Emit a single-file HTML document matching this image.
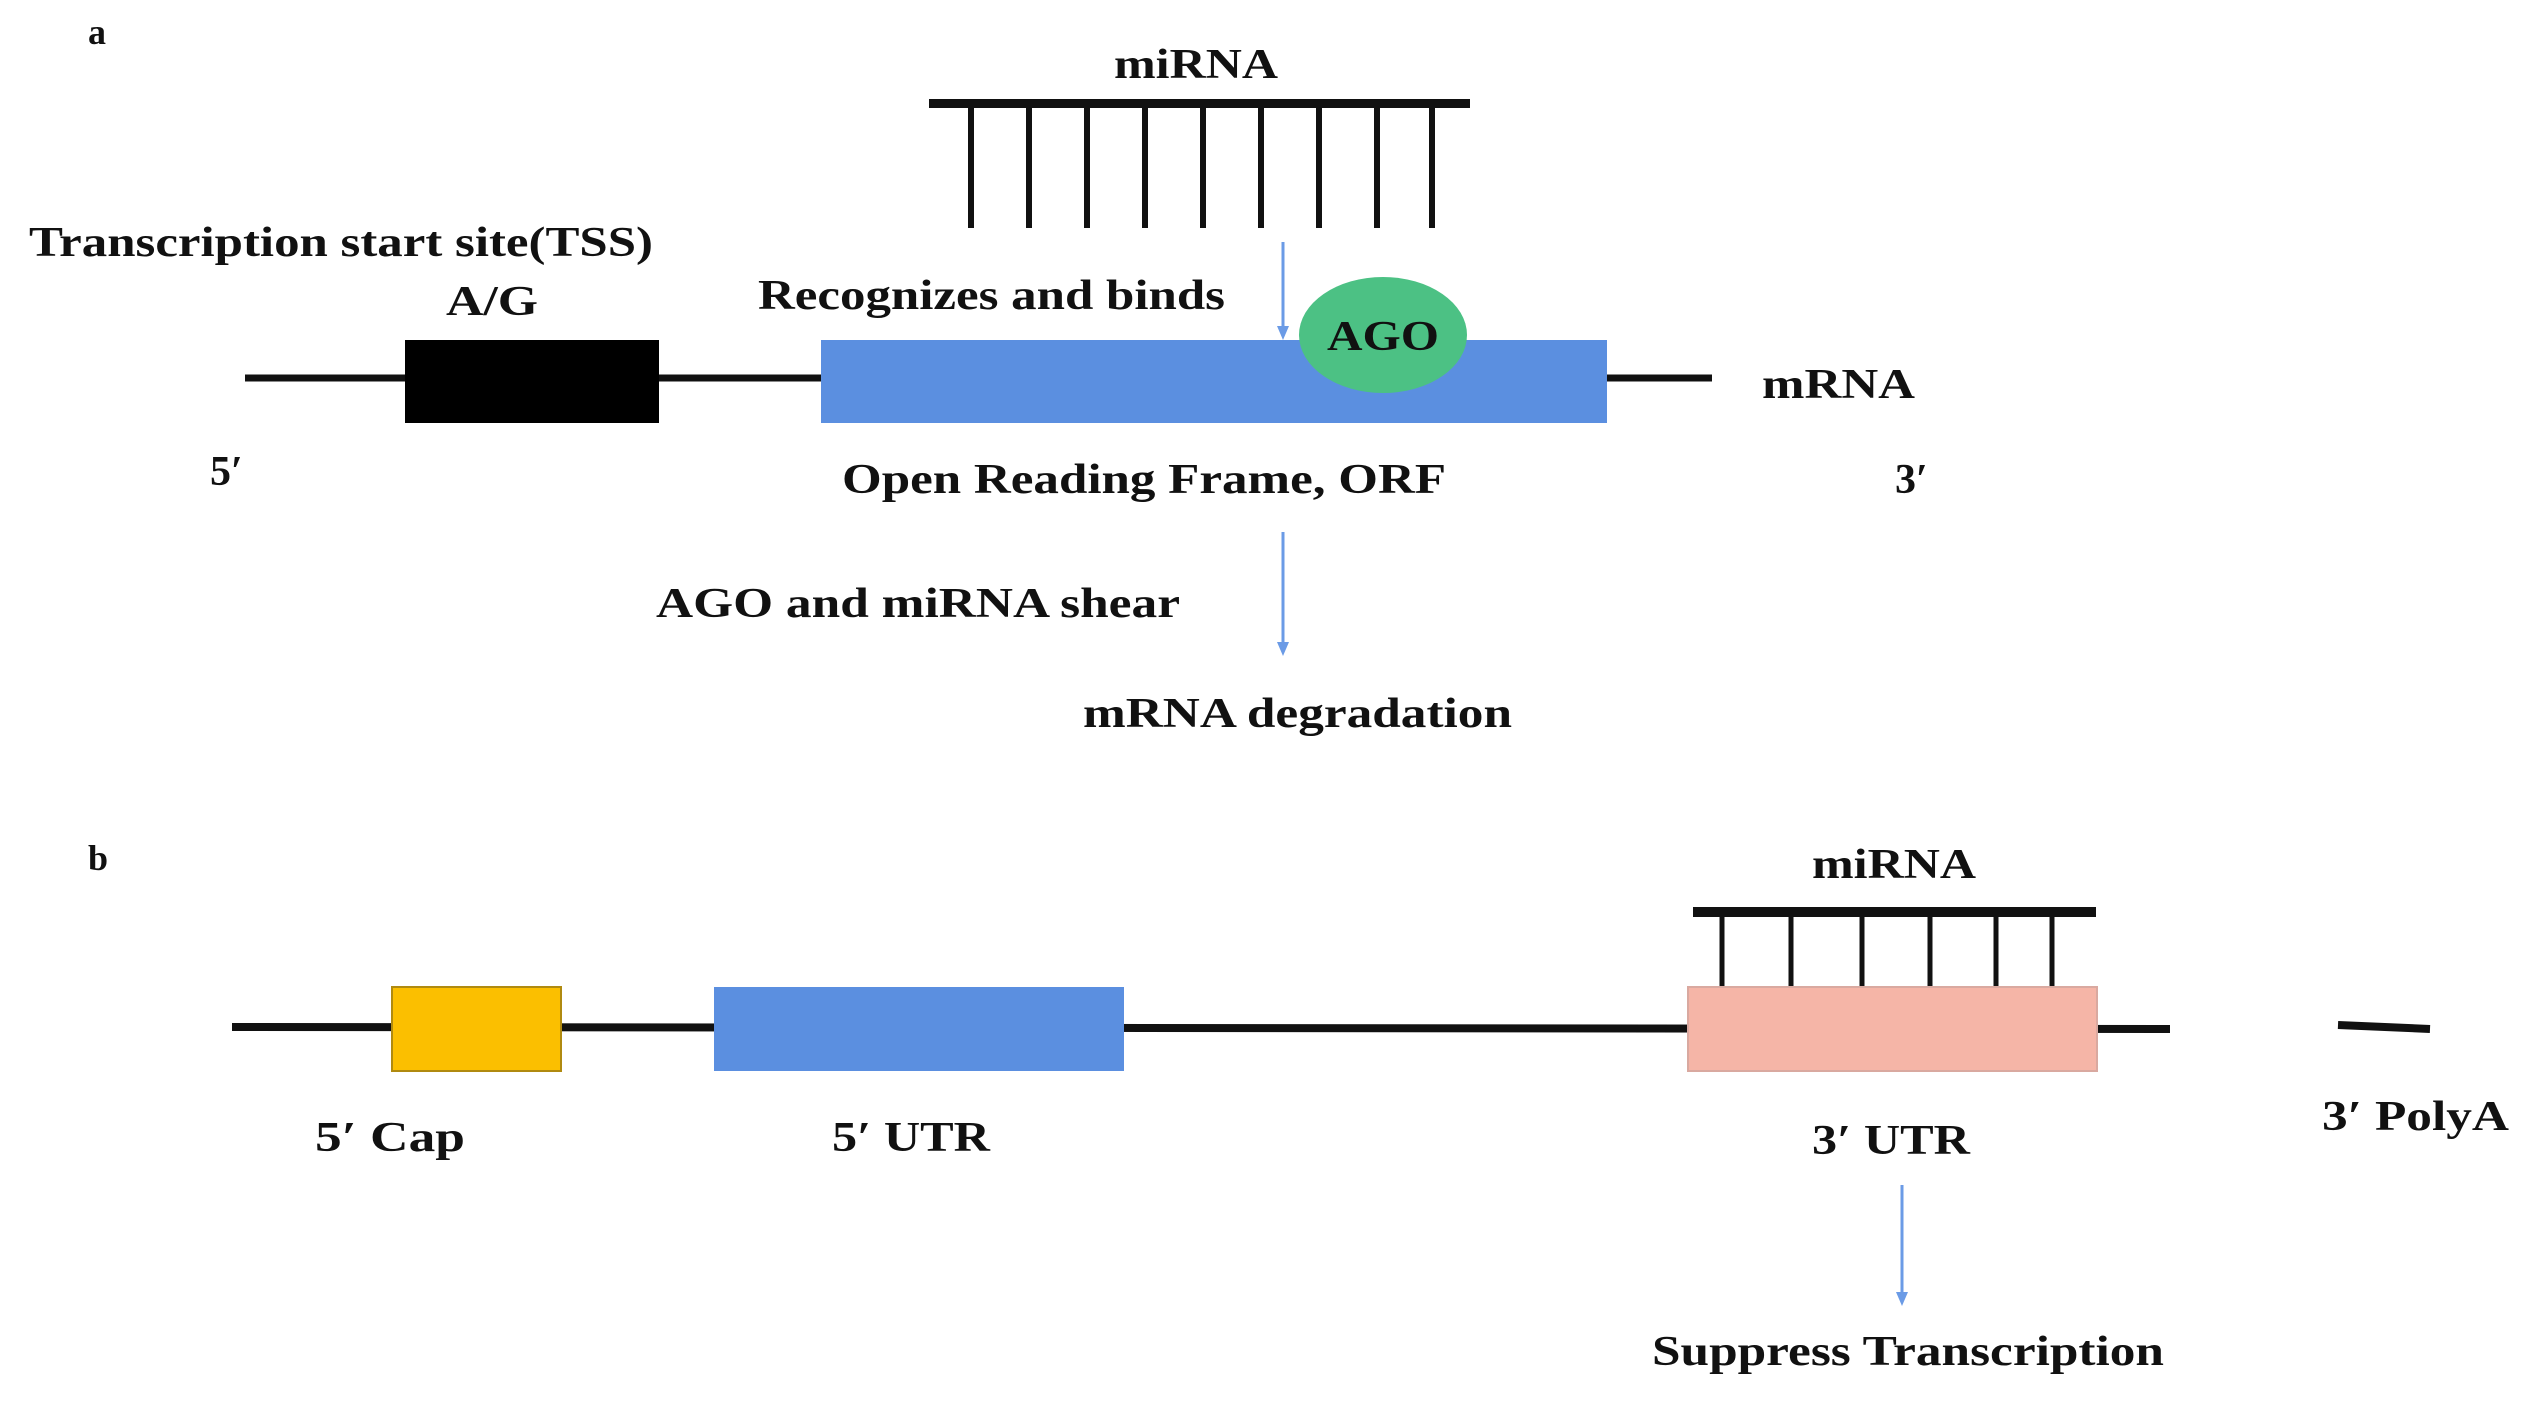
<!DOCTYPE html>
<html><head><meta charset="utf-8"><style>html,body{margin:0;padding:0;background:#fff}svg{display:block}</style></head>
<body>
<svg width="2528" height="1408" viewBox="0 0 2528 1408" xmlns="http://www.w3.org/2000/svg" font-family="Liberation Serif, serif" font-weight="bold" fill="#111">
<!-- panel a -->
<text x="88" y="44" font-size="36">a</text>
<text x="1196" y="78" font-size="42" text-anchor="middle" textLength="164" lengthAdjust="spacingAndGlyphs">miRNA</text>
<rect x="929" y="99" width="541" height="9" fill="#111"/>
<g stroke="#111" stroke-width="6">
<line x1="971" y1="103" x2="971" y2="228"/><line x1="1029" y1="103" x2="1029" y2="228"/><line x1="1087" y1="103" x2="1087" y2="228"/><line x1="1145" y1="103" x2="1145" y2="228"/><line x1="1203" y1="103" x2="1203" y2="228"/><line x1="1261" y1="103" x2="1261" y2="228"/><line x1="1319" y1="103" x2="1319" y2="228"/><line x1="1377" y1="103" x2="1377" y2="228"/><line x1="1432" y1="103" x2="1432" y2="228"/>
</g>
<text x="29" y="256" font-size="42" textLength="624" lengthAdjust="spacingAndGlyphs">Transcription start site(TSS)</text>
<text x="492" y="315" font-size="42" text-anchor="middle" textLength="92" lengthAdjust="spacingAndGlyphs">A/G</text>
<text x="758" y="309" font-size="42" textLength="467" lengthAdjust="spacingAndGlyphs">Recognizes and binds</text>
<line x1="245" y1="378" x2="1712" y2="378" stroke="#111" stroke-width="7"/>
<rect x="405" y="340" width="254" height="83" fill="#000"/>
<rect x="821" y="340" width="786" height="83" fill="#5b8fe0"/>
<line x1="1283" y1="242" x2="1283" y2="330" stroke="#6b9be6" stroke-width="3"/>
<path d="M1277 326 L1289 326 L1283 340 Z" fill="#6b9be6"/>
<ellipse cx="1383" cy="335" rx="84" ry="58" fill="#4cc184"/>
<text x="1383" y="350" font-size="42" text-anchor="middle" textLength="112" lengthAdjust="spacingAndGlyphs">AGO</text>
<text x="1762" y="398" font-size="42" textLength="153" lengthAdjust="spacingAndGlyphs">mRNA</text>
<text x="210" y="485" font-size="42">5′</text>
<text x="1895" y="493" font-size="42">3′</text>
<text x="842" y="493" font-size="42" textLength="604" lengthAdjust="spacingAndGlyphs">Open Reading Frame, ORF</text>
<line x1="1283" y1="532" x2="1283" y2="645" stroke="#6b9be6" stroke-width="3"/>
<path d="M1277 642 L1289 642 L1283 656 Z" fill="#6b9be6"/>
<text x="656" y="617" font-size="42" textLength="524" lengthAdjust="spacingAndGlyphs">AGO and miRNA shear</text>
<text x="1083" y="727" font-size="42" textLength="429" lengthAdjust="spacingAndGlyphs">mRNA degradation</text>
<!-- panel b -->
<text x="88" y="870" font-size="36">b</text>
<text x="1894" y="878" font-size="42" text-anchor="middle" textLength="164" lengthAdjust="spacingAndGlyphs">miRNA</text>
<rect x="1693" y="907" width="403" height="10" fill="#111"/>
<g stroke="#111" stroke-width="5">
<line x1="1722" y1="912" x2="1722" y2="988"/><line x1="1791" y1="912" x2="1791" y2="988"/><line x1="1862" y1="912" x2="1862" y2="988"/><line x1="1930" y1="912" x2="1930" y2="988"/><line x1="1996" y1="912" x2="1996" y2="988"/><line x1="2052" y1="912" x2="2052" y2="988"/>
</g>
<line x1="232" y1="1027" x2="2170" y2="1029" stroke="#111" stroke-width="8"/>
<line x1="2338" y1="1025" x2="2430" y2="1029" stroke="#111" stroke-width="8"/>
<rect x="392" y="987" width="169" height="84" fill="#fbbf00" stroke="#b08a10" stroke-width="2"/>
<rect x="714" y="987" width="410" height="84" fill="#5b8fe0"/>
<rect x="1688" y="987" width="409" height="84" fill="#f5b5a7" stroke="#d9a9a0" stroke-width="2"/>
<text x="390" y="1151" font-size="42" text-anchor="middle" textLength="150" lengthAdjust="spacingAndGlyphs">5′ Cap</text>
<text x="911" y="1151" font-size="42" text-anchor="middle" textLength="158" lengthAdjust="spacingAndGlyphs">5′ UTR</text>
<text x="1891" y="1154" font-size="42" text-anchor="middle" textLength="158" lengthAdjust="spacingAndGlyphs">3′ UTR</text>
<text x="2322" y="1130" font-size="42" textLength="187" lengthAdjust="spacingAndGlyphs">3′ PolyA</text>
<line x1="1902" y1="1185" x2="1902" y2="1296" stroke="#6b9be6" stroke-width="3"/>
<path d="M1896 1292 L1908 1292 L1902 1306 Z" fill="#6b9be6"/>
<text x="1652" y="1365" font-size="42" textLength="512" lengthAdjust="spacingAndGlyphs">Suppress Transcription</text>
</svg>
</body></html>
